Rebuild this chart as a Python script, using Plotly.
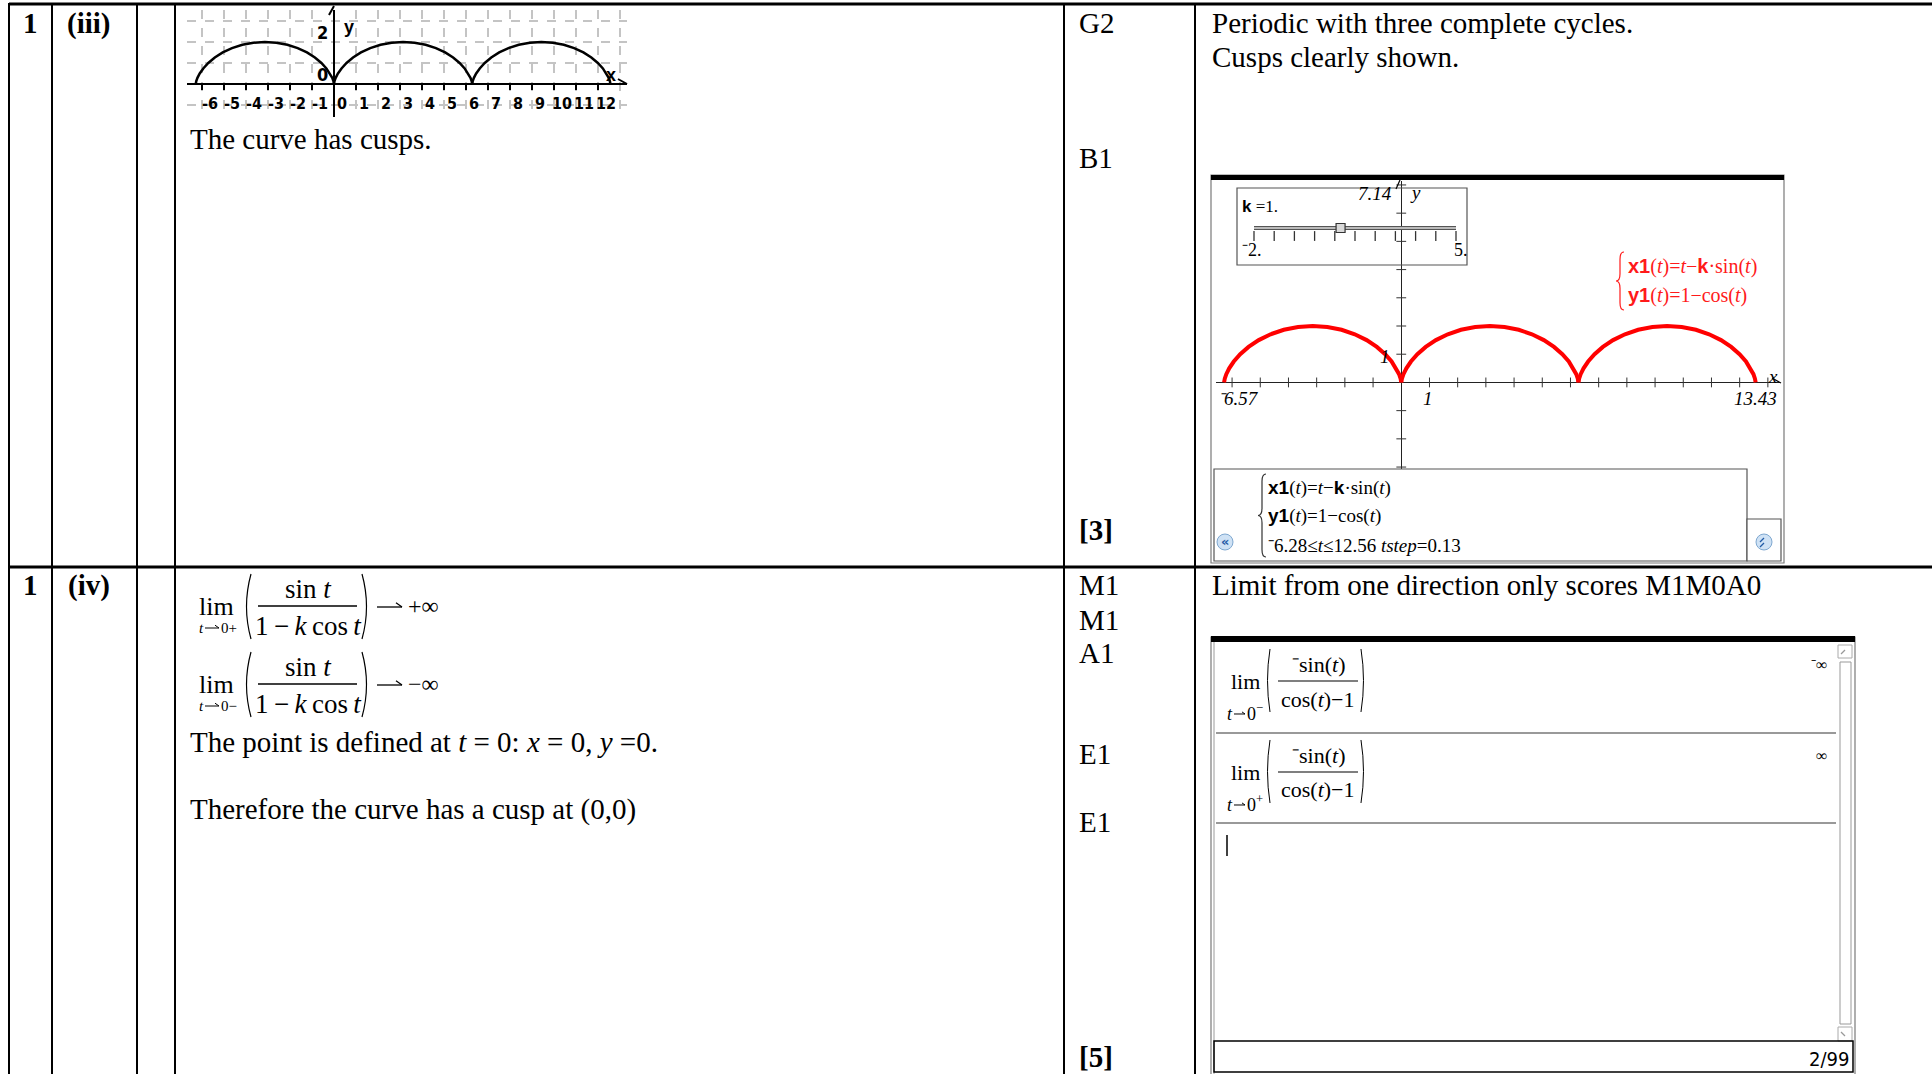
import plotly.graph_objects as go

W, H = 1932, 1074

# ---------------- data ----------------
# one cycloid arch x = t - sin t, y = 1 - cos t
arch_x = [0, 0.003, 0.024, 0.078, 0.181, 0.343, 0.571, 0.867, 1.228, 1.649, 2.118, 2.621, 3.142,
          3.663, 4.165, 4.634, 5.055, 5.416, 5.712, 5.940, 6.102, 6.205, 6.259, 6.280, 6.283]
arch_y = [0, 0.034, 0.134, 0.293, 0.5, 0.741, 1.0, 1.259, 1.5, 1.707, 1.866, 1.966, 2.0,
          1.966, 1.866, 1.707, 1.5, 1.259, 1.0, 0.741, 0.5, 0.293, 0.134, 0.034, 0]
arch_starts = [-6.283, 0, 6.283]

sketch_xticks = [-6, -5, -4, -3, -2, -1, 0, 1, 2, 3, 4, 5, 6, 7, 8, 9, 10, 11, 12]
sketch_xlabels = ["-6", "-5", "-4", "-3", "-2", "-1", "0", "1", "2", "3", "4", "5", "6", "7", "8", "9", "10", "11", "12"]
sketch_xgrid = [-6, -5, -4, -3, -2, -1, 0, 1, 2, 3, 4, 5, 6, 7, 8, 9, 10, 11, 12, 13]
sketch_yticks = [0, 2]
sketch_ylabels = ["0", "2"]
sketch_ygrid = [-1, 0, 1, 2, 3]
sketch_xrange = [-6.68, 13.32]
sketch_yrange = [-1.57, 3.52]

ti_xrange = [-6.57, 13.43]
ti_yrange = [-6.33, 7.14]
ti_xticks = [-6, -5, -4, -3, -2, -1, 1, 2, 3, 4, 5, 6, 7, 8, 9, 10, 11, 12, 13]
ti_yticks = [-6, -5, -4, -3, -2, -1, 1, 2, 3, 4, 5, 6, 7]

slider_min, slider_max, k_value = -2, 5, 1
slider_ticks = [-2, -1.3, -0.6, 0.1, 0.8, 1.5, 2.2, 2.9, 3.6, 4.3, 5]

SERIF = "Liberation Serif, Times New Roman, serif"
SANS = "Liberation Sans, Arial, sans-serif"
COND = "DejaVu Sans Condensed, Liberation Sans Narrow, Liberation Sans, sans-serif"


def X(p):
    return p / W


def Y(p):
    return 1 - p / H


shapes = []
annotations = []


def line(x0, y0, x1, y1, w=2, c="black"):
    shapes.append(dict(type="line", xref="paper", yref="paper", x0=X(x0), y0=Y(y0), x1=X(x1), y1=Y(y1),
                       line=dict(color=c, width=w)))


def rect(x0, y0, x1, y1, w=1, c="black", fill=None):
    shapes.append(dict(type="rect", xref="paper", yref="paper", x0=X(x0), y0=Y(y0), x1=X(x1), y1=Y(y1),
                       line=dict(color=c, width=w), fillcolor=fill if fill else "rgba(0,0,0,0)"))


def path(pts, w=1.2, c="black"):
    s = ""
    for cmd, coords in pts:
        s += cmd + " " + " ".join(f"{X(a):.6f},{Y(b):.6f}" for a, b in coords) + " "
    shapes.append(dict(type="path", xref="paper", yref="paper", path=s.strip(), line=dict(color=c, width=w)))


def paren(x, y0, y1, bulge, left=True, w=1.2, c="black"):
    ym = (y0 + y1) / 2
    xc = x - 2 * bulge if left else x + 2 * bulge
    path([("M", [(x, y0)]), ("Q", [(xc, ym), (x, y1)])], w=w, c=c)


def brace(x, y0, y1, wdt, w=1.2, c="black"):
    ym = (y0 + y1) / 2
    xa = x + wdt / 2
    r = wdt * 0.9
    path([("M", [(x + wdt, y0)]), ("Q", [(xa, y0), (xa, y0 + r)]), ("L", [(xa, ym - r)]),
          ("Q", [(xa, ym), (x, ym)]), ("Q", [(xa, ym), (xa, ym + r)]), ("L", [(xa, y1 - r)]),
          ("Q", [(xa, y1), (x + wdt, y1)])], w=w, c=c)


def arrow(x0, x1, y, w=1.2, head=5):
    path([("M", [(x0, y)]), ("L", [(x1, y)])], w=w)
    path([("M", [(x1 - head, y - head * 0.7)]), ("L", [(x1, y), (x1 - head, y + head * 0.7)])], w=w)


def chevron(cx, cy, s, up=True, w=1.3, c="#1f5aa6"):
    d = -1 if up else 1
    path([("M", [(cx - s, cy - d * s * 0.5)]), ("L", [(cx, cy + d * s * 0.5), (cx + s, cy - d * s * 0.5)])], w=w, c=c)


def text(x, y, s, size=29, fam=SERIF, anchor="left", color="black"):
    annotations.append(dict(x=X(x), y=Y(y), xref="paper", yref="paper", text=s, showarrow=False,
                            xanchor=anchor, yanchor="middle", borderpad=0,
                            font=dict(size=size, family=fam, color=color)))


# ---------------- table ----------------
line(9, 4, W, 4, w=3)
line(9, 567, W, 567, w=3)
for vx in [9, 52, 137, 175, 1064, 1195]:
    line(vx, 3, vx, H, w=2)

# row 1 text
text(30, 23, "<b>1</b>", anchor="center")
text(89, 23, "<b>(iii)</b>", anchor="center")
text(189, 139, "The curve has cusps.")
text(1078, 23, "G2")
text(1078, 158, "B1")
text(1078, 530, "<b>[3]</b>")
text(1211, 23, "Periodic with three complete cycles.")
text(1211, 57, "Cusps clearly shown.")

# row 2 text
text(30, 585, "<b>1</b>", anchor="center")
text(89, 585, "<b>(iv)</b>", anchor="center")
for yy, m in [(585, "M1"), (620, "M1"), (653, "A1"), (754, "E1"), (822, "E1")]:
    text(1078, yy, m)
text(1078, 1057, "<b>[5]</b>")
text(1211, 585, "Limit from one direction only scores M1M0A0")
text(189, 742, "The point is defined at <i>t</i> = 0: <i>x</i> = 0, <i>y</i> =0.")
text(189, 809, "Therefore the curve has a cusp at (0,0)")

# limit expressions
for dy, sub, res in [(0, "+", "+∞"), (78, "−", "−∞")]:
    text(216, 606 + dy, "lim", size=26, anchor="center")
    text(201, 628 + dy, "<i>t</i>", size=15, anchor="center")
    arrow(205, 219, 628 + dy, w=1, head=4)
    text(220, 628 + dy, "0" + sub, size=15)
    paren(251, 574 + dy, 639 + dy, 4.5, left=True)
    paren(362, 574 + dy, 639 + dy, 4.5, left=False)
    text(308, 589 + dy, "sin <i>t</i>", size=27, anchor="center")
    line(258, 606 + dy, 357, 606 + dy, w=1.3)
    text(308, 626 + dy, "1\u2009−\u2009<i>k</i>\u2009cos\u2009<i>t</i>", size=27, anchor="center")
    arrow(377, 402, 607 + dy, w=1.3, head=6)
    text(407, 606 + dy, res, size=24)

# ---------------- sketch arrows / labels ----------------
path([("M", [(329, 15)]), ("L", [(334, 6), (339, 15)])], w=2)
path([("M", [(618, 79)]), ("L", [(627, 84), (618, 89)])], w=2)
text(343, 27, "<b>y</b>", size=18, fam=SANS)
text(611, 75, "<b>x</b>", size=18, fam=SANS, anchor="center")

# ---------------- TI graph screen ----------------
rect(1211, 175, 1784, 563, w=1.2, c="#7a7a7a")
rect(1211, 175, 1784, 180, w=0, fill="black")
rect(1237, 188, 1467, 265, w=1.2, c="#555555")
text(1241, 207, "<span style='font-family:Liberation Sans;font-weight:bold'>k</span> =1.", size=17)
text(1241, 250, "⁻2.", size=18)
text(1453, 250, "5.", size=18)
text(1217, 399, "<i>⁻6.57</i>", size=19)
text(1428, 399, "<i>1</i>", size=19, anchor="center")
text(1778, 399, "<i>13.43</i>", size=19, anchor="right")
text(1393, 193, "<i>7.14</i>", size=19, anchor="right")
text(1409, 192, "<i>y</i>", size=19)
text(1773, 377, "<i>x</i>", size=19, anchor="center")
text(1385, 356, "<i>1</i>", size=19, anchor="center")
path([("M", [(1772, 378)]), ("L", [(1781, 383), (1772, 388)])], w=1.2)
path([("M", [(1396, 189)]), ("L", [(1400, 180), (1404, 189)])], w=1.2)

RED = "#ff1a1a"
brace(1616, 252, 310, 8, c=RED)
bx = "<span style='font-family:Liberation Sans;font-weight:bold'>"
text(1627, 266, bx + "x1</span>(<i>t</i>)=<i>t</i>−" + bx + "k</span>·sin(<i>t</i>)", size=20, color=RED)
text(1627, 296, bx + "y1</span>(<i>t</i>)=1−cos(<i>t</i>)", size=20, color=RED)

# entry line
rect(1214, 469, 1747, 561, w=1.2, c="#555555", fill="white")
rect(1747, 519, 1781, 561, w=1.2, c="#555555", fill="white")
brace(1258, 474, 557, 8, c="#333333")
text(1267, 488, bx + "x1</span>(<i>t</i>)=<i>t</i>−" + bx + "k</span>·sin(<i>t</i>)", size=19)
text(1267, 516, bx + "y1</span>(<i>t</i>)=1−cos(<i>t</i>)", size=19)
text(1267, 545, "⁻6.28≤<i>t</i>≤12.56 <i>tstep</i>=0.13", size=19)
for cx in [1225, 1764]:
    shapes.append(dict(type="circle", xref="paper", yref="paper", x0=X(cx - 8), x1=X(cx + 8),
                       y0=Y(534), y1=Y(550), fillcolor="#cfe2f5", line=dict(color="#7fa8d0", width=1)))
text(1225, 541, "<b>«</b>", size=13, fam="DejaVu Sans", anchor="center", color="#1f5aa6")
chevron(1764, 540, 4, up=True)
chevron(1764, 545, 4, up=True)

# ---------------- calculator screen ----------------
rect(1211, 637, 1855, 1080, w=1.2, c="#7a7a7a")
line(1214, 640, 1214, 1074, w=1, c="#9a9a9a")
rect(1211, 636, 1855, 642, w=0, fill="black")
line(1216, 733, 1836, 733, w=1.5, c="#777777")
line(1216, 823, 1836, 823, w=1.5, c="#777777")
line(1227, 835, 1227, 856, w=1.5, c="black")
rect(1838, 645, 1852, 658, w=1, c="#aaaaaa")
chevron(1845, 652, 4, up=True, w=1.3, c="#999999")
rect(1840, 662, 1851, 1024, w=1, c="#999999")
rect(1838, 1027, 1852, 1041, w=1, c="#aaaaaa")
chevron(1845, 1034, 4, up=False, w=1.3, c="#999999")
rect(1214, 1041, 1853, 1072, w=1.5, c="black")
text(1850, 1059, "2/99", size=20, fam="DejaVu Sans Condensed, DejaVu Sans", anchor="right")

for dy, sup, res in [(0, "−", "⁻∞"), (91, "+", "∞")]:
    text(1245, 681 + dy, "lim", size=22, anchor="center")
    text(1230, 714 + dy, "<i>t</i>", size=18, anchor="center")
    arrow(1234, 1245, 714 + dy, w=1, head=3)
    text(1246, 712 + dy, "0<sup>" + sup + "</sup>", size=18)
    paren(1270, 649 + dy, 712 + dy, 2.5, left=True, w=1)
    paren(1361, 649 + dy, 712 + dy, 2.5, left=False, w=1)
    text(1318, 664 + dy, "⁻sin(<i>t</i>)", size=22, anchor="center")
    line(1278, 681 + dy, 1358, 681 + dy, w=1.2)
    text(1318, 699 + dy, "cos(<i>t</i>)−1", size=22, anchor="center")
    text(1828, 664 + dy, res, size=16, anchor="right")

# ---------------- traces ----------------
fig = go.Figure()
for s in arch_starts:
    fig.add_trace(go.Scatter(x=[s + v for v in arch_x], y=arch_y, mode="lines",
                             line=dict(color="black", width=2.5), xaxis="x", yaxis="y",
                             hoverinfo="skip", showlegend=False))
for s in arch_starts:
    fig.add_trace(go.Scatter(x=[s + v for v in arch_x], y=arch_y, mode="lines",
                             line=dict(color="red", width=4), xaxis="x2", yaxis="y2",
                             hoverinfo="skip", showlegend=False))
fig.add_trace(go.Scatter(x=ti_xticks, y=[0] * len(ti_xticks), mode="markers", xaxis="x2", yaxis="y2",
                         marker=dict(symbol="line-ns", size=7, line=dict(color="#333333", width=1)),
                         hoverinfo="skip", showlegend=False, cliponaxis=False))
fig.add_trace(go.Scatter(x=[0] * len(ti_yticks), y=ti_yticks, mode="markers", xaxis="x2", yaxis="y2",
                         marker=dict(symbol="line-ew", size=7, line=dict(color="#333333", width=1)),
                         hoverinfo="skip", showlegend=False, cliponaxis=False))
# slider
fig.add_trace(go.Scatter(x=[slider_min, slider_max], y=[0.6, 0.6], mode="lines", xaxis="x3", yaxis="y3",
                         line=dict(color="#555555", width=4), hoverinfo="skip", showlegend=False,
                         cliponaxis=False))
fig.add_trace(go.Scatter(x=[slider_min, slider_max], y=[0.6, 0.6], mode="lines", xaxis="x3", yaxis="y3",
                         line=dict(color="#dddddd", width=1.5), hoverinfo="skip", showlegend=False,
                         cliponaxis=False))
fig.add_trace(go.Scatter(x=slider_ticks, y=[0.2] * len(slider_ticks), mode="markers", xaxis="x3", yaxis="y3",
                         marker=dict(symbol="line-ns", size=7, line=dict(color="#333333", width=1.3)),
                         hoverinfo="skip", showlegend=False, cliponaxis=False))
fig.add_trace(go.Scatter(x=[k_value], y=[0.6], mode="markers", xaxis="x3", yaxis="y3",
                         marker=dict(symbol="square", size=9, color="#d8d8d8", line=dict(color="#333333", width=1.2)),
                         hoverinfo="skip", showlegend=False, cliponaxis=False))

grid_common = dict(showgrid=True, gridcolor="#c4c4c4", griddash="dash", gridwidth=1.5)
fig.update_layout(
    width=W, height=H, autosize=False,
    margin=dict(l=0, r=0, t=0, b=0, pad=0),
    paper_bgcolor="white", plot_bgcolor="rgba(0,0,0,0)",
    showlegend=False,
    xaxis=dict(domain=[X(187), X(627)], range=sketch_xrange, anchor="free", position=Y(84),
               tickmode="array", tickvals=sketch_xticks, ticktext=sketch_xlabels, tickangle=0,
               tickfont=dict(family=COND, size=16, color="black", weight="bold"),
               ticks="outside", ticklen=5, tickwidth=2, tickcolor="black",
               ticklabelshift=8, ticklabelstandoff=0,
               showline=True, linecolor="black", linewidth=2, zeroline=False, showgrid=False,
               minor=dict(tickmode="array", tickvals=sketch_xgrid, ticks="", **grid_common),
               fixedrange=True),
    yaxis=dict(domain=[Y(117), Y(10)], range=sketch_yrange, anchor="free", position=X(334),
               tickmode="array", tickvals=sketch_yticks, ticktext=sketch_ylabels,
               tickfont=dict(family=COND, size=18, color="black", weight="bold"),
               ticks="", ticklabelshift=-9, ticklabelstandoff=1,
               showline=True, linecolor="black", linewidth=2, zeroline=False, showgrid=False,
               minor=dict(tickmode="array", tickvals=sketch_ygrid, ticks="", **grid_common),
               fixedrange=True),
    xaxis2=dict(domain=[X(1216), X(1780)], range=ti_xrange, anchor="y2", showgrid=False,
                showticklabels=False, ticks="", zeroline=True, zerolinecolor="#222222", zerolinewidth=1.2,
                showline=False, fixedrange=True),
    yaxis2=dict(domain=[Y(561), Y(181)], range=ti_yrange, anchor="x2", showgrid=False,
                showticklabels=False, ticks="", zeroline=True, zerolinecolor="#222222", zerolinewidth=1.2,
                showline=False, fixedrange=True),
    xaxis3=dict(domain=[X(1254), X(1456)], range=[slider_min, slider_max], anchor="y3", visible=False),
    yaxis3=dict(domain=[Y(240), Y(220)], range=[0, 1], anchor="x3", visible=False),
    shapes=shapes,
    annotations=annotations,
)

fig.write_html("out.html", config={"displayModeBar": False},
               post_script="document.body.style.margin='0';document.body.style.overflow='hidden';")
